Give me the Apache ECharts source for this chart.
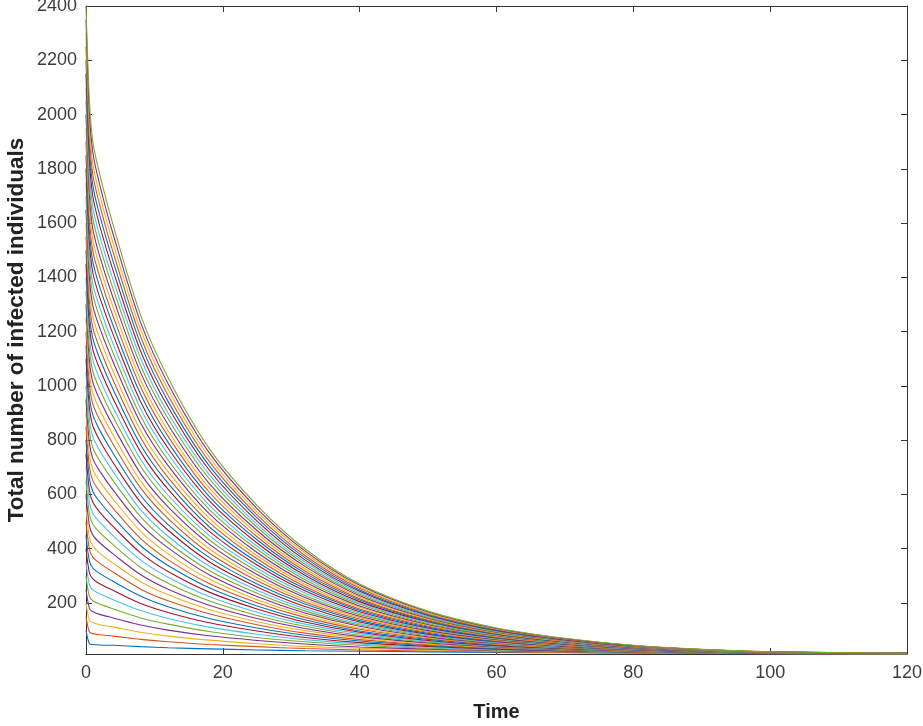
<!DOCTYPE html>
<html>
<head>
<meta charset="utf-8">
<script src="https://cdn.jsdelivr.net/npm/echarts@6/dist/echarts.min.js"></script>
<style>
html,body{margin:0;padding:0;background:#fff;}
#chart{width:923px;height:726px;}
</style>
</head>
<body>
<div id="chart"></div>
<script>
const timeSteps = [0, 0.5, 1, 2, 4, 8, 12, 18, 25, 32, 40, 50, 60, 70, 80, 90, 100, 120];

// Total infected for each of the 47 curves (lowest curve first) at each time sample
const atT0 = [100,150,200,250,300,350,400,450,500,550,600,650,700,750,800,850,900,950,1000,1050,1100,1150,1200,1250,1300,1350,1400,1450,1500,1550,1600,1650,1700,1750,1800,1850,1900,1950,2000,2050,2100,2150,2200,2250,2300,2350,2400];
const atT0_5 = [50,93,137,180,224,267,311,354,398,441,485,528,572,615,659,702,746,789,833,876,920,963,1007,1050,1093,1137,1180,1224,1267,1311,1354,1398,1441,1485,1528,1572,1615,1659,1702,1746,1789,1833,1876,1920,1963,2007,2050];
const atT1 = [47,87,128,168,208,248,289,329,369,410,450,490,530,571,611,651,692,732,772,812,853,893,933,974,1014,1054,1094,1135,1175,1215,1255,1296,1336,1376,1417,1457,1497,1537,1578,1618,1658,1699,1739,1779,1819,1860,1900];
const atT2 = [45,83,120,158,196,234,271,309,347,384,422,460,498,535,573,611,648,686,724,762,799,837,875,912,950,988,1026,1063,1101,1139,1177,1214,1252,1290,1327,1365,1403,1441,1478,1516,1554,1591,1629,1667,1705,1742,1780];
const atT4 = [44,78,111,145,178,212,246,279,313,346,380,414,447,481,515,548,582,615,649,683,716,750,783,817,851,884,918,951,985,1019,1052,1086,1119,1153,1187,1220,1254,1288,1321,1355,1388,1422,1456,1489,1523,1556,1590];
const atT8 = [39,66,92,119,145,172,198,225,251,278,304,331,358,384,411,437,464,490,517,543,570,596,623,649,676,703,729,756,782,809,835,862,888,915,941,968,995,1021,1048,1074,1101,1127,1154,1180,1207,1233,1260];
const atT12 = [35,57,78,100,122,143,165,186,208,230,251,273,295,316,338,359,381,403,424,446,468,489,511,532,554,576,597,619,641,662,684,706,727,749,770,792,814,835,857,879,900,922,943,965,987,1008,1030];
const atT18 = [31,47,63,79,95,111,127,143,160,176,192,208,224,240,256,272,288,304,320,336,352,368,384,400,417,433,449,465,481,497,513,529,545,561,577,593,609,625,641,658,674,690,706,722,738,754,770];
const atT25 = [27,39,50,62,73,85,97,108,120,131,143,154,166,178,189,201,212,224,236,247,259,270,282,294,305,317,328,340,351,363,375,386,398,409,421,433,444,456,467,479,490,502,514,525,537,548,560];
const atT32 = [24,32,40,49,57,65,73,81,89,98,106,114,122,130,138,147,155,163,171,179,187,196,204,212,220,228,237,245,253,261,269,277,286,294,302,310,318,326,335,343,351,359,367,375,384,392,400];
const atT40 = [22,27,33,38,44,49,54,60,65,71,76,81,87,92,97,103,108,114,119,124,130,135,141,146,151,157,162,168,173,178,184,189,195,200,205,211,216,221,227,232,238,243,248,254,259,265,270];
const atT50 = [20,23,27,30,33,36,40,43,46,49,53,56,59,62,66,69,72,75,79,82,85,88,92,95,98,102,105,108,111,115,118,121,124,128,131,134,137,141,144,147,150,154,157,160,163,167,170];
const atT60 = [18,20,22,24,26,28,30,32,34,36,38,40,41,43,45,47,49,51,53,55,57,59,61,63,65,67,69,71,73,75,77,79,81,83,85,86,88,90,92,94,96,98,100,102,104,106,108];
const atT70 = [16.5,17.7,18.8,20.0,21.2,22.3,23.5,24.6,25.8,27.0,28.1,29.3,30.5,31.6,32.8,33.9,35.1,36.3,37.4,38.6,39.8,40.9,42.1,43.2,44.4,45.6,46.7,47.9,49.1,50.2,51.4,52.6,53.7,54.9,56.0,57.2,58.4,59.5,60.7,61.9,63.0,64.2,65.3,66.5,67.7,68.8,70.0];
const atT80 = [15.0,15.6,16.3,16.9,17.5,18.2,18.8,19.4,20.0,20.7,21.3,21.9,22.6,23.2,23.8,24.5,25.1,25.7,26.3,27.0,27.6,28.2,28.9,29.5,30.1,30.8,31.4,32.0,32.7,33.3,33.9,34.5,35.2,35.8,36.4,37.1,37.7,38.3,39.0,39.6,40.2,40.8,41.5,42.1,42.7,43.4,44.0];
const atT90 = [14.0,14.3,14.7,15.0,15.3,15.6,16.0,16.3,16.6,16.9,17.3,17.6,17.9,18.2,18.6,18.9,19.2,19.5,19.9,20.2,20.5,20.8,21.2,21.5,21.8,22.2,22.5,22.8,23.1,23.5,23.8,24.1,24.4,24.8,25.1,25.4,25.7,26.1,26.4,26.7,27.0,27.4,27.7,28.0,28.3,28.7,29.0];
const atT100 = [13.0,13.2,13.3,13.5,13.6,13.8,13.9,14.1,14.2,14.4,14.5,14.7,14.8,15.0,15.1,15.3,15.4,15.6,15.7,15.9,16.0,16.2,16.3,16.5,16.7,16.8,17.0,17.1,17.3,17.4,17.6,17.7,17.9,18.0,18.2,18.3,18.5,18.6,18.8,18.9,19.1,19.2,19.4,19.5,19.7,19.8,20.0];
const atT120 = [12.0,12.1,12.1,12.2,12.3,12.3,12.4,12.5,12.5,12.6,12.7,12.7,12.8,12.8,12.9,13.0,13.0,13.1,13.2,13.2,13.3,13.4,13.4,13.5,13.6,13.6,13.7,13.8,13.8,13.9,14.0,14.0,14.1,14.2,14.2,14.3,14.3,14.4,14.5,14.5,14.6,14.7,14.7,14.8,14.9,14.9,15.0];

// Tick labels
const xTickValues = [0, 20, 40, 60, 80, 100, 120];
const yTickValues = [200, 400, 600, 800, 1000, 1200, 1400, 1600, 1800, 2000, 2200, 2400];

// Axis titles
const xTitle = 'Time';
const yTitle = 'Total number of infected individuals';

// MATLAB default line colour order
const lineColors = ['#0072BD', '#D95319', '#EDB120', '#7E2F8E', '#77AC30', '#4DBEEE', '#A2142F'];

const columns = [atT0, atT0_5, atT1, atT2, atT4, atT8, atT12, atT18, atT25, atT32, atT40, atT50, atT60, atT70, atT80, atT90, atT100, atT120];
const nCurves = atT0.length;

const series = [];
for (let i = 0; i < nCurves; i++) {
  const data = [];
  for (let j = 0; j < timeSteps.length; j++) {
    if (columns[j][i] !== undefined) data.push([timeSteps[j], columns[j][i]]);
  }
  series.push({
    type: 'line',
    data: data,
    showSymbol: false,
    symbol: 'none',
    smooth: 0.3,
    lineStyle: { width: 1.1, color: lineColors[i % lineColors.length] },
    emphasis: { disabled: true },
    silent: true,
    animation: false,
    z: 2
  });
}

const axisColor = '#333333';
const fontFam = 'Liberation Sans, Arial, Helvetica, sans-serif';
const labelStyle = { color: '#3c3c3c', fontSize: 18, fontFamily: fontFam };
const xTitleStyle = { color: '#222222', fontSize: 20, fontWeight: 'bold', fontFamily: fontFam };
const yTitleStyle = { color: '#222222', fontSize: 22.5, fontWeight: 'bold', fontFamily: fontFam };
const plain = v => String(v);

const chart = echarts.init(document.getElementById('chart'), null, { renderer: 'canvas' });
chart.setOption({
  backgroundColor: '#ffffff',
  animation: false,
  grid: { left: 86, right: 16, top: 6, bottom: 72, containLabel: false, outerBoundsMode: 'none' },
  xAxis: [
    {
      type: 'value', min: 0, max: 120, interval: 20, position: 'bottom',
      name: xTitle, nameLocation: 'middle', nameGap: 48, nameTextStyle: xTitleStyle, nameMoveOverlap: false,
      axisLine: { show: true, onZero: false, lineStyle: { color: axisColor, width: 1 } },
      axisTick: { show: true, inside: true, length: 6, lineStyle: { color: axisColor } },
      axisLabel: Object.assign({ margin: 10, customValues: xTickValues, formatter: plain }, labelStyle),
      splitLine: { show: false }
    },
    {
      type: 'value', min: 0, max: 120, interval: 20, position: 'top',
      axisLine: { show: true, onZero: false, lineStyle: { color: axisColor, width: 1 } },
      axisTick: { show: true, inside: true, length: 6, lineStyle: { color: axisColor } },
      axisLabel: { show: false },
      splitLine: { show: false }
    }
  ],
  yAxis: [
    {
      type: 'value', min: 12, max: 2400, position: 'left',
      name: yTitle, nameLocation: 'middle', nameGap: 58, nameRotate: 90, nameTextStyle: yTitleStyle, nameMoveOverlap: false,
      axisLine: { show: true, onZero: false, lineStyle: { color: axisColor, width: 1 } },
      axisTick: { show: true, inside: true, length: 6, customValues: yTickValues, lineStyle: { color: axisColor } },
      axisLabel: Object.assign({ margin: 9, customValues: yTickValues, formatter: plain }, labelStyle),
      splitLine: { show: false }
    },
    {
      type: 'value', min: 12, max: 2400, position: 'right',
      axisLine: { show: true, onZero: false, lineStyle: { color: axisColor, width: 1 } },
      axisTick: { show: true, inside: true, length: 6, customValues: yTickValues, lineStyle: { color: axisColor } },
      axisLabel: { show: false },
      splitLine: { show: false }
    }
  ],
  series: series
});
</script>
</body>
</html>
